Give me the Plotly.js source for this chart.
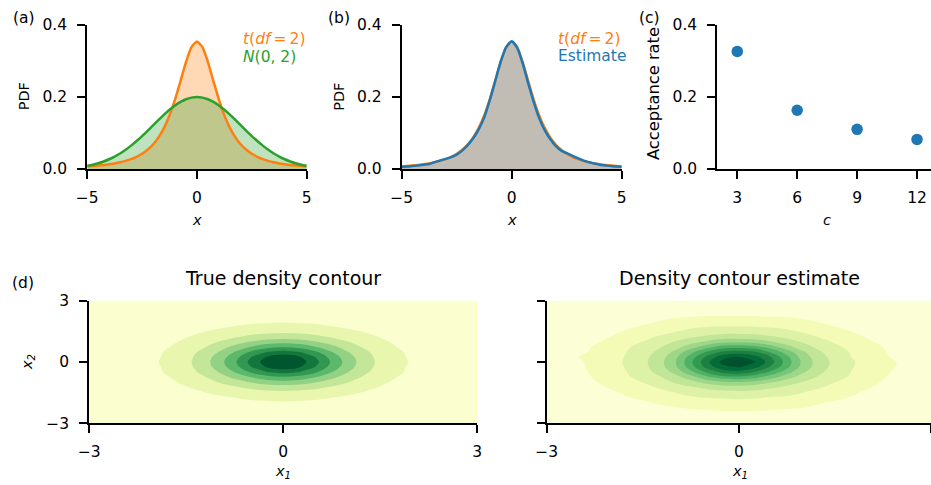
<!DOCTYPE html>
<html>
<head>
<meta charset="utf-8">
<script src="https://cdn.plot.ly/plotly-3.0.1.min.js"></script>
<style>
html,body{margin:0;padding:0;background:#ffffff;}
#chart{width:931px;height:485px;}
</style>
</head>
<body>
<div id="chart"></div>
<script>
// ---------------- data ----------------
const xGrid = [-5,-4.75,-4.5,-4.25,-4,-3.75,-3.5,-3.25,-3,-2.75,-2.5,-2.25,-2,-1.75,-1.5,-1.25,-1,-0.75,-0.5,-0.25,0,0.25,0.5,0.75,1,1.25,1.5,1.75,2,2.25,2.5,2.75,3,3.25,3.5,3.75,4,4.25,4.5,4.75,5];
const tPdf = [0.0071,0.0082,0.0095,0.0111,0.0131,0.0155,0.0186,0.0225,0.0274,0.0338,0.0422,0.0533,0.0680,0.0878,0.1141,0.1487,0.1925,0.2438,0.2963,0.3376,0.3536,0.3376,0.2963,0.2438,0.1925,0.1487,0.1141,0.0878,0.0680,0.0533,0.0422,0.0338,0.0274,0.0225,0.0186,0.0155,0.0131,0.0111,0.0095,0.0082,0.0071];
const normalPdf = [0.0088,0.0119,0.0159,0.0209,0.0270,0.0344,0.0431,0.0533,0.0648,0.0775,0.0913,0.1059,0.1210,0.1360,0.1506,0.1641,0.1760,0.1859,0.1933,0.1979,0.1995,0.1979,0.1933,0.1859,0.1760,0.1641,0.1506,0.1360,0.1210,0.1059,0.0913,0.0775,0.0648,0.0533,0.0431,0.0344,0.0270,0.0209,0.0159,0.0119,0.0088];
const estimatePdf = [0.006,0.007,0.008,0.010,0.012,0.014,0.019,0.024,0.028,0.033,0.040,0.051,0.066,0.085,0.110,0.143,0.190,0.244,0.298,0.338,0.354,0.336,0.293,0.238,0.186,0.141,0.108,0.083,0.064,0.051,0.044,0.037,0.030,0.024,0.019,0.015,0.012,0.010,0.008,0.007,0.006];

const cValues = [3, 6, 9, 12];
const acceptanceRate = [0.326, 0.163, 0.110, 0.082];

// true density (x 1e-3) on a 0.25 grid
const trueX = [-2.5,-2.25,-2,-1.75,-1.5,-1.25,-1,-0.75,-0.5,-0.25,0,0.25,0.5,0.75,1,1.25,1.5,1.75,2,2.25,2.5];
const trueY = [-2.5,-2.25,-2,-1.75,-1.5,-1.25,-1,-0.75,-0.5,-0.25,0,0.25,0.5,0.75,1,1.25,1.5,1.75,2,2.25,2.5];
const trueDensity = [
 [3,4,4,5,6,7,7,8,9,9,9,9,9,8,7,7,6,5,4,4,3],
 [4,4,5,6,7,9,10,11,12,13,13,13,12,11,10,9,7,6,5,4,4],
 [4,5,6,8,9,11,13,15,16,17,18,17,16,15,13,11,9,8,6,5,4],
 [5,6,8,10,12,15,17,20,23,24,25,24,23,20,17,15,12,10,8,6,5],
 [6,7,9,12,15,19,23,27,31,34,35,34,31,27,23,19,15,12,9,7,6],
 [7,9,11,15,19,24,31,37,44,48,50,48,44,37,31,24,19,15,11,9,7],
 [7,10,13,17,23,31,40,50,60,68,71,68,60,50,40,31,23,17,13,10,7],
 [8,11,15,20,27,37,50,65,80,92,97,92,80,65,50,37,27,20,15,11,8],
 [9,12,16,23,31,44,60,80,102,119,126,119,102,80,60,44,31,23,16,12,9],
 [9,13,17,24,34,48,68,92,119,141,150,141,119,92,68,48,34,24,17,13,9],
 [9,13,18,25,35,50,71,97,126,150,159,150,126,97,71,50,35,25,18,13,9],
 [9,13,17,24,34,48,68,92,119,141,150,141,119,92,68,48,34,24,17,13,9],
 [9,12,16,23,31,44,60,80,102,119,126,119,102,80,60,44,31,23,16,12,9],
 [8,11,15,20,27,37,50,65,80,92,97,92,80,65,50,37,27,20,15,11,8],
 [7,10,13,17,23,31,40,50,60,68,71,68,60,50,40,31,23,17,13,10,7],
 [7,9,11,15,19,24,31,37,44,48,50,48,44,37,31,24,19,15,11,9,7],
 [6,7,9,12,15,19,23,27,31,34,35,34,31,27,23,19,15,12,9,7,6],
 [5,6,8,10,12,15,17,20,23,24,25,24,23,20,17,15,12,10,8,6,5],
 [4,5,6,8,9,11,13,15,16,17,18,17,16,15,13,11,9,8,6,5,4],
 [4,4,5,6,7,9,10,11,12,13,13,13,12,11,10,9,7,6,5,4,4],
 [3,4,4,5,6,7,7,8,9,9,9,9,9,8,7,7,6,5,4,4,3]
];

// estimated density (x 1e-3) on a 0.25 grid
const estX = [-2.75,-2.5,-2.25,-2,-1.75,-1.5,-1.25,-1,-0.75,-0.5,-0.25,0,0.25,0.5,0.75,1,1.25,1.5,1.75,2,2.25,2.5,2.75];
const estY = [-2.75,-2.5,-2.25,-2,-1.75,-1.5,-1.25,-1,-0.75,-0.5,-0.25,0,0.25,0.5,0.75,1,1.25,1.5,1.75,2,2.25,2.5,2.75];
const estDensity = [
 [1,2,2,3,3,4,5,6,7,7,8,8,8,7,7,6,5,4,3,3,2,2,1],
 [2,2,3,4,5,6,8,10,11,12,13,13,13,12,11,10,8,6,5,4,3,2,2],
 [2,3,4,5,7,9,12,14,16,17,18,19,18,17,16,15,12,9,7,5,4,3,2],
 [3,4,5,7,10,13,16,19,21,23,25,25,25,23,21,19,16,13,10,7,5,4,3],
 [3,5,7,10,14,17,21,25,28,30,31,32,31,29,28,25,22,18,14,10,7,5,3],
 [4,6,9,13,17,22,26,30,35,38,40,41,40,37,34,30,26,22,17,13,9,6,4],
 [5,8,12,16,21,26,31,37,43,48,52,53,51,47,42,37,31,26,21,16,12,8,5],
 [6,10,14,19,25,30,37,46,54,64,71,72,69,61,51,44,37,30,25,19,14,9,6],
 [7,11,16,21,28,35,43,54,68,85,98,100,94,81,66,53,43,35,28,21,16,11,7],
 [8,12,17,23,30,38,49,64,85,107,124,128,119,101,81,62,48,38,30,23,17,12,7],
 [9,13,18,25,31,40,53,71,98,125,146,151,140,118,94,69,52,40,31,25,19,14,9],
 [9,13,19,25,32,41,54,73,102,131,155,161,152,126,98,71,53,41,32,25,20,14,9],
 [9,15,18,25,31,40,52,70,97,123,144,150,141,120,94,68,51,39,30,24,17,12,8],
 [8,12,17,23,30,38,48,63,84,106,122,126,120,102,82,62,47,37,29,22,16,11,7],
 [7,11,16,21,28,35,43,53,67,83,96,98,94,81,65,51,41,33,26,20,15,10,7],
 [6,9,13,18,24,30,37,45,53,62,69,70,68,61,51,43,35,28,23,17,12,9,6],
 [5,7,11,15,20,26,31,36,42,47,51,51,50,46,41,35,29,24,19,14,10,7,5],
 [4,6,9,12,16,21,25,29,34,37,39,39,38,36,33,28,24,20,15,11,8,6,4],
 [3,5,7,9,13,16,20,24,27,29,30,30,29,28,26,23,19,15,12,9,6,4,3],
 [3,4,5,7,9,12,15,18,20,21,22,22,22,21,19,17,14,11,8,6,5,4,3],
 [2,3,4,5,7,9,11,13,14,15,15,15,15,14,14,12,10,8,6,5,4,3,2],
 [2,2,3,4,5,6,7,8,9,10,10,10,10,9,9,8,6,5,4,3,3,2,2],
 [1,2,2,3,3,4,5,6,7,7,8,8,8,7,7,6,5,4,3,3,2,2,1]
];

// tick labels
const pdfXTicks = [-5, 0, 5];
const rateYTicks = [0, 0.2, 0.4];
const rateYTickText = ['0.0', '0.2', '0.4'];
const cTicks = [3, 6, 9, 12];
const contourTicks = [-3, 0, 3];

// ---------------- styles ----------------
const FONT = 'DejaVu Sans, sans-serif';
const ORANGE = '#ff7f0e', GREEN = '#2ca02c', BLUE = '#1f77b4';
const trueBandColors = ['#fbfecf','#e8f6ae','#c3e698','#93d284','#5cb86b','#329750','#12763d','#00562f'];
const estBandColors = ['#fcfed5','#f4fbb7','#def2a7','#c1e698','#9fd788','#78c679','#50b265','#339951','#1d7f41','#036b38','#00522e'];

function steppedScale(colors) {
  const L = colors.length - 1;
  const out = [];
  colors.forEach((c, k) => {
    out.push([Math.max(0, (k - 0.5) / L), c]);
    out.push([Math.min(1, (k + 0.5) / L), c]);
  });
  return out;
}

const W = 931, H = 485;
const px = v => v / W;
const py = v => (H - v) / H;

function axisStyle(extra) {
  return Object.assign({
    showline: true, linecolor: 'black', linewidth: 2,
    ticks: 'outside', ticklen: 8, tickwidth: 2, tickcolor: 'black',
    showgrid: false, zeroline: false, automargin: false,
    tickfont: {family: FONT, size: 15.5, color: 'black'},
    tickmode: 'array', fixedrange: true
  }, extra);
}

const topY = [py(169), py(24.7)];
const botY = [py(423.3), py(300.7)];

function fillTrace(y, xa, ya, color) {
  return {type: 'scatter', x: xGrid, y: y, xaxis: xa, yaxis: ya, mode: 'none',
    line: {width: 0, shape: 'spline', smoothing: 0.6},
    fill: 'tozeroy', fillcolor: color, hoverinfo: 'skip'};
}
function lineTrace(y, xa, ya, color) {
  return {type: 'scatter', x: xGrid, y: y, xaxis: xa, yaxis: ya, mode: 'lines',
    line: {color: color, width: 2.5, shape: 'spline', smoothing: 0.6}, hoverinfo: 'skip'};
}

const traces = [
  fillTrace(tPdf, 'x', 'y', 'rgba(255,127,14,0.3)'),
  fillTrace(normalPdf, 'x', 'y', 'rgba(44,160,44,0.3)'),
  lineTrace(tPdf, 'x', 'y', ORANGE),
  lineTrace(normalPdf, 'x', 'y', GREEN),
  fillTrace(tPdf, 'x2', 'y2', 'rgba(255,127,14,0.3)'),
  fillTrace(estimatePdf, 'x2', 'y2', 'rgba(31,119,180,0.28)'),
  lineTrace(tPdf, 'x2', 'y2', ORANGE),
  lineTrace(estimatePdf, 'x2', 'y2', BLUE),
  {type: 'scatter', x: cValues, y: acceptanceRate, xaxis: 'x3', yaxis: 'y3', mode: 'markers',
   marker: {color: BLUE, size: 11.5}, hoverinfo: 'skip'},
  {type: 'contour', x: trueX, y: trueY, z: trueDensity, xaxis: 'x4', yaxis: 'y4',
   autocontour: false, contours: {start: 20, end: 140, size: 20, coloring: 'fill', showlines: false},
   line: {width: 0, smoothing: 1}, colorscale: steppedScale(trueBandColors), showscale: false, hoverinfo: 'skip'},
  {type: 'contour', x: estX, y: estY, z: estDensity, xaxis: 'x5', yaxis: 'y5',
   autocontour: false, contours: {start: 15, end: 150, size: 15, coloring: 'fill', showlines: false},
   line: {width: 0, smoothing: 1}, colorscale: steppedScale(estBandColors), showscale: false, hoverinfo: 'skip'}
];

function ann(text, x, y, opts) {
  return Object.assign({
    text: text, xref: 'paper', yref: 'paper', x: px(x), y: py(y),
    xanchor: 'center', yanchor: 'middle', showarrow: false,
    font: {family: FONT, size: 14.5, color: 'black'}
  }, opts || {});
}
const italic = {family: FONT, size: 14.5, color: 'black', style: 'italic'};
const label = {family: FONT, size: 15.5, color: 'black'};

const annotations = [
  ann('(a)', 11, 18, {xanchor: 'left', font: label}),
  ann('(b)', 326, 18, {xanchor: 'left', font: label}),
  ann('(c)', 637, 18, {xanchor: 'left', font: label}),
  ann('(d)', 10, 283, {xanchor: 'left', font: label}),
  ann('<i>t</i>(<i>df</i>\u2009=\u20092)', 241, 38.5, {xanchor: 'left', font: {family: FONT, size: 15.5, color: ORANGE}}),
  ann('<i>N</i>(0, 2)', 241, 56.5, {xanchor: 'left', font: {family: FONT, size: 15.5, color: GREEN}}),
  ann('<i>t</i>(<i>df</i>\u2009=\u20092)', 556, 38.5, {xanchor: 'left', font: {family: FONT, size: 15.5, color: ORANGE}}),
  ann('Estimate', 556, 55.5, {xanchor: 'left', font: {family: FONT, size: 15.5, color: BLUE}}),
  ann('x', 197, 220, {font: italic}),
  ann('x', 511.7, 220, {font: italic}),
  ann('c', 826.7, 220, {font: italic}),
  ann('PDF', 23.5, 96.8, {textangle: -90}),
  ann('PDF', 339, 96.8, {textangle: -90}),
  ann('Acceptance rate', 653.5, 93.5, {textangle: -90, font: {family: FONT, size: 16.3, color: 'black'}}),
  ann('x<sub>2</sub>', 28, 362, {textangle: -90, font: italic}),
  ann('x<sub>1</sub>', 283.3, 472, {font: italic}),
  ann('x<sub>1</sub>', 740, 472, {font: italic}),
  ann('True density contour', 283.3, 278, {font: {family: FONT, size: 19, color: 'black'}}),
  ann('Density contour estimate', 739, 278, {font: {family: FONT, size: 19, color: 'black'}})
];

const layout = {
  width: W, height: H,
  margin: {l: 0, r: 0, t: 0, b: 0, pad: 0},
  paper_bgcolor: '#ffffff', plot_bgcolor: '#ffffff',
  showlegend: false,
  font: {family: FONT, color: 'black'},
  xaxis: axisStyle({domain: [px(87.2), px(306.7)], anchor: 'y', range: [-5, 5], tickvals: pdfXTicks, ticklabelstandoff: 5}),
  yaxis: axisStyle({domain: topY, anchor: 'x', range: [0, 0.4], tickvals: rateYTicks, ticktext: rateYTickText, ticklabelstandoff: 7}),
  xaxis2: axisStyle({domain: [px(401.7), px(621.7)], anchor: 'y2', range: [-5, 5], tickvals: pdfXTicks, ticklabelstandoff: 5}),
  yaxis2: axisStyle({domain: topY, anchor: 'x2', range: [0, 0.4], tickvals: rateYTicks, ticktext: rateYTickText, ticklabelstandoff: 7}),
  xaxis3: axisStyle({domain: [px(717.3), 1], anchor: 'y3', range: [2, 12.7], tickvals: cTicks, ticklabelstandoff: 5}),
  yaxis3: axisStyle({domain: topY, anchor: 'x3', range: [0, 0.4], tickvals: rateYTicks, ticktext: rateYTickText, ticklabelstandoff: 7}),
  xaxis4: axisStyle({domain: [px(89.3), px(477.3)], anchor: 'y4', range: [-3, 3], tickvals: contourTicks, ticklabelstandoff: 5}),
  yaxis4: axisStyle({domain: botY, anchor: 'x4', range: [-3, 3], tickvals: contourTicks, ticklabelstandoff: 7}),
  xaxis5: axisStyle({domain: [px(546.7), 1], anchor: 'y5', range: [-3, 3], tickvals: contourTicks, ticklabelstandoff: 5}),
  yaxis5: axisStyle({domain: botY, anchor: 'x5', range: [-3, 3], tickvals: contourTicks, showticklabels: false}),
  shapes: [
    {type: 'rect', xref: 'x4 domain', yref: 'y4 domain', x0: 0, x1: 1, y0: 0, y1: 1,
     fillcolor: trueBandColors[0], line: {width: 0}, layer: 'below'},
    {type: 'rect', xref: 'x5 domain', yref: 'y5 domain', x0: 0, x1: 1, y0: 0, y1: 1,
     fillcolor: estBandColors[0], line: {width: 0}, layer: 'below'}
  ],
  annotations: annotations
};

Plotly.newPlot('chart', traces, layout, {staticPlot: true, displayModeBar: false});
</script>
</body>
</html>
